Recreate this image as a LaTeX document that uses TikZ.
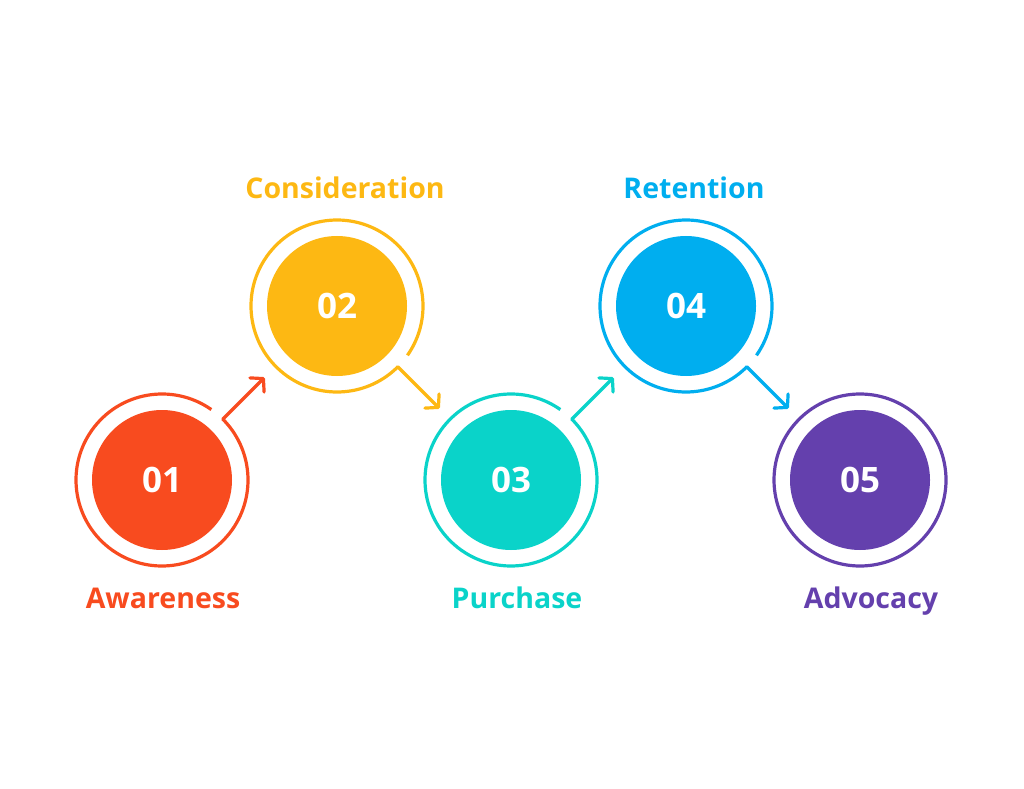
\documentclass[tikz,border=0pt]{standalone}
\usepackage{fontspec}
\setmainfont{Open Sans}
\usepackage{xcolor}
\definecolor{Flame}{HTML}{F84B1F}
\definecolor{Amber}{HTML}{FDB813}
\definecolor{Turq}{HTML}{0AD3C9}
\definecolor{Sky}{HTML}{00AEEF}
\definecolor{Violet}{HTML}{6440AD}
\colorlet{flame}{Flame}
\colorlet{amber}{Amber}
\colorlet{turq}{Turq}
\colorlet{sky}{Sky}
\colorlet{violet}{Violet}
\usepackage{tikz}
\usetikzlibrary{arrows.meta,positioning,calc}

\begin{document}
\begin{tikzpicture}[x=1pt,y=1pt,
  disc/.style={circle,minimum size=140pt,inner sep=0pt,text=white,font=\fontsize{35}{40}\selectfont\bfseries},
  ring/.style={line width=3.2pt},
  stepto/.style={line width=3.2pt,line cap=round,-{Straight Barb[length=9pt,width=20pt,round]}},
  tag/.style={anchor=base,font=\fontsize{28.5}{32}\selectfont\bfseries}]
\useasboundingbox (0,0) rectangle (1024,788);
% stages
\node[disc,fill=flame] (s1) at (162,308) {01};
\node[disc,fill=amber] (s2) at (337,482) {02};
\node[disc,fill=turq] (s3) at (511,308) {03};
\node[disc,fill=sky] (s4) at (686,482) {04};
\node[disc,fill=violet] (s5) at (860,308) {05};
% rings with a gap where the arrow leaves
\draw[ring,flame] ([shift={(55:86)}]s1.center) arc[start angle=55,end angle=405,radius=86];
\draw[ring,amber] ([shift={(-35:86)}]s2.center) arc[start angle=-35,end angle=315,radius=86];
\draw[ring,turq] ([shift={(55:86)}]s3.center) arc[start angle=55,end angle=405,radius=86];
\draw[ring,sky] ([shift={(-35:86)}]s4.center) arc[start angle=-35,end angle=315,radius=86];
\draw[ring,violet] (s5.center) circle[radius=86];
% arrow ends
\coordinate (e1) at ([shift={(45:145)}]s1.center);
\coordinate (e2) at ([shift={(-45:145)}]s2.center);
\coordinate (e3) at ([shift={(45:145)}]s3.center);
\coordinate (e4) at ([shift={(-45:145)}]s4.center);
\draw[stepto,flame] ([shift={(45:86)}]s1.center) -- (e1);
\draw[stepto,amber] ([shift={(-45:86)}]s2.center) -- (e2);
\draw[stepto,turq] ([shift={(45:86)}]s3.center) -- (e3);
\draw[stepto,sky] ([shift={(-45:86)}]s4.center) -- (e4);
% labels
\node[tag,text=flame] (t1) at (163,180) {Awareness};
\node[tag,text=amber] (t2) at (345,589) {Consideration};
\node[tag,text=turq] (t3) at (517,180) {Purchase};
\node[tag,text=sky] (t4) at (694,589) {Retention};
\node[tag,text=violet] (t5) at (871,180) {Advocacy};
\end{tikzpicture}
\end{document}
